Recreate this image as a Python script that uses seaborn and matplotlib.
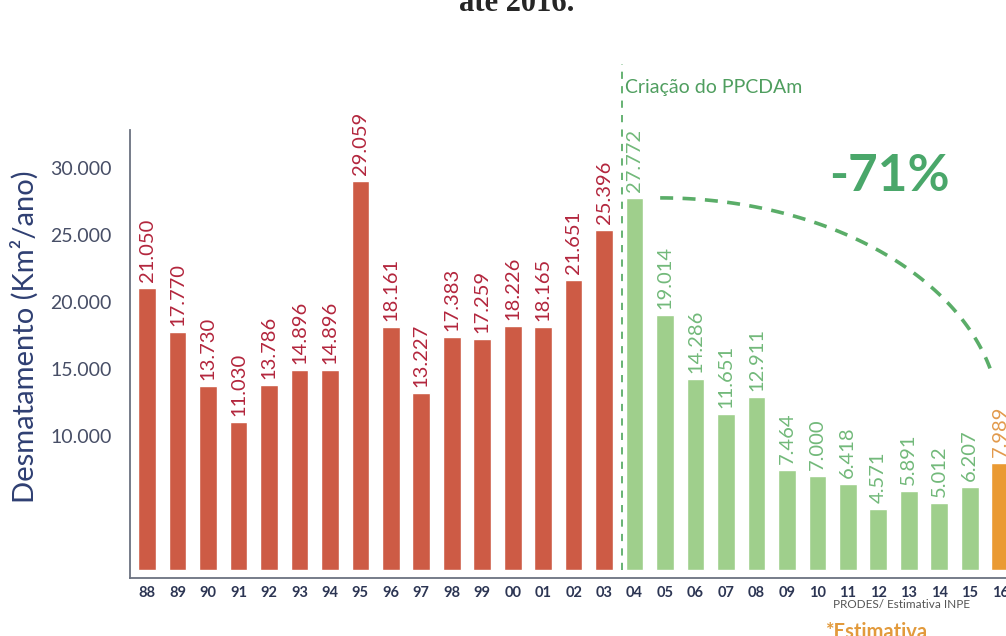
import numpy as np
import pandas as pd
import matplotlib
matplotlib.use("Agg")
import matplotlib.pyplot as plt
import seaborn as sns
from matplotlib import font_manager

# ---- data ----
years = ["88", "89", "90", "91", "92", "93", "94", "95", "96", "97", "98", "99",
         "00", "01", "02", "03", "04", "05", "06", "07", "08", "09", "10", "11",
         "12", "13", "14", "15", "16"]
values = [21050, 17770, 13730, 11030, 13786, 14896, 14896, 29059, 18161, 13227,
          17383, 17259, 18226, 18165, 21651, 25396, 27772, 19014, 14286, 11651,
          12911, 7464, 7000, 6418, 4571, 5891, 5012, 6207, 7989]
periods = ["antes"] * 16 + ["depois"] * 12 + ["estimativa"]
yticks = [10000, 15000, 20000, 25000, 30000]

bar_colors = {"antes": "#cd5b45", "depois": "#9fcf8c", "estimativa": "#ea9a33"}
label_colors = {"antes": "#b3263d", "depois": "#72b97a", "estimativa": "#e29a4c"}

df = pd.DataFrame({"ano": years, "valor": values, "periodo": periods})

sns.set_theme(style="white")
avail = {f.name for f in font_manager.fontManager.ttflist}
base = "Lato" if "Lato" in avail else "DejaVu Sans"
narrow = "Liberation Sans Narrow" if "Liberation Sans Narrow" in avail else base
plt.rcParams["font.family"] = [base, "DejaVu Sans"]

fig = plt.figure(figsize=(10.06, 6.36), dpi=100)
ax = fig.add_axes([130 / 1006, 1 - 578 / 636, 1 - 130 / 1006, (578 - 130) / 636])

sns.barplot(data=df, x="ano", y="valor", hue="periodo", order=years,
            palette=bar_colors, dodge=False, width=0.58, legend=False,
            saturation=1, ax=ax)

ax.set_xlim(-0.56, 28.19)
ax.set_ylim(-600, 32840)
ax.set_yticks(yticks)
ax.set_yticklabels([f"{t:,}".replace(",", ".") for t in yticks],
                   fontsize=14, color="#474e66")
ax.tick_params(axis="x", labelsize=10.5, labelcolor="#2c3553", length=0, pad=6)
ax.tick_params(axis="y", length=0, pad=13)
for lab in ax.get_xticklabels():
    lab.set_fontweight("bold")
ax.set_xlabel("")
ax.set_ylabel("Desmatamento (Km²/ano)", fontsize=21, color="#2f3f72")
ax.yaxis.set_label_coords(-0.104, 0.538)

for s in ["top", "right"]:
    ax.spines[s].set_visible(False)
for s in ["left", "bottom"]:
    ax.spines[s].set_color("#6b7280")
    ax.spines[s].set_linewidth(1.3)

# value labels
for i, (v, p) in enumerate(zip(values, periods)):
    ax.text(i, v + 450, f"{v:,}".replace(",", "."), rotation=90, ha="center",
            va="bottom", fontsize=14.5, color=label_colors[p], family=narrow,
            clip_on=False)

# vertical dashed line at PPCDAm creation
i04 = years.index("04")
ax.plot([i04 - 0.4, i04 - 0.4], [0, 37800], ls=(0, (4, 4)), lw=1.3,
        color="#5aad68", clip_on=False)
ax.text(i04 - 0.3, 36030, "Criação do PPCDAm", fontsize=14, color="#4f9e5f",
        va="center", ha="left", clip_on=False)

# dashed arc of decline
t = np.linspace(0, np.radians(76), 80)
a = 340 / 30.47
b = 225 * 74.6
cy = values[i04] - b
xs = i04 + 0.84 + a * np.sin(t)
ys = cy + b * np.cos(t)
ax.plot(xs, ys, ls=(0, (3.6, 2.6)), lw=2.6, color="#5aad68", clip_on=False)

ax.text(24.37, 29390, "-71%", fontsize=37, fontweight="bold", color="#4aa76a",
        ha="center", va="center")

# titles and notes
fig.text(517 / 1006, 1 - 11 / 636, "até 2016.", fontsize=22, fontweight="bold",
         family=["Liberation Serif", "DejaVu Serif"], ha="center", va="baseline")
fig.text(0.828, 1 - 604 / 636, "PRODES/ Estimativa INPE", fontsize=8.5,
         color="#555555", ha="left", va="center")
fig.text(0.82, 1 - 632 / 636, "*Estimativa", fontsize=14.5, fontweight="bold",
         color="#e29a3c", ha="left", va="center")

fig.savefig("out.png", dpi=100)
